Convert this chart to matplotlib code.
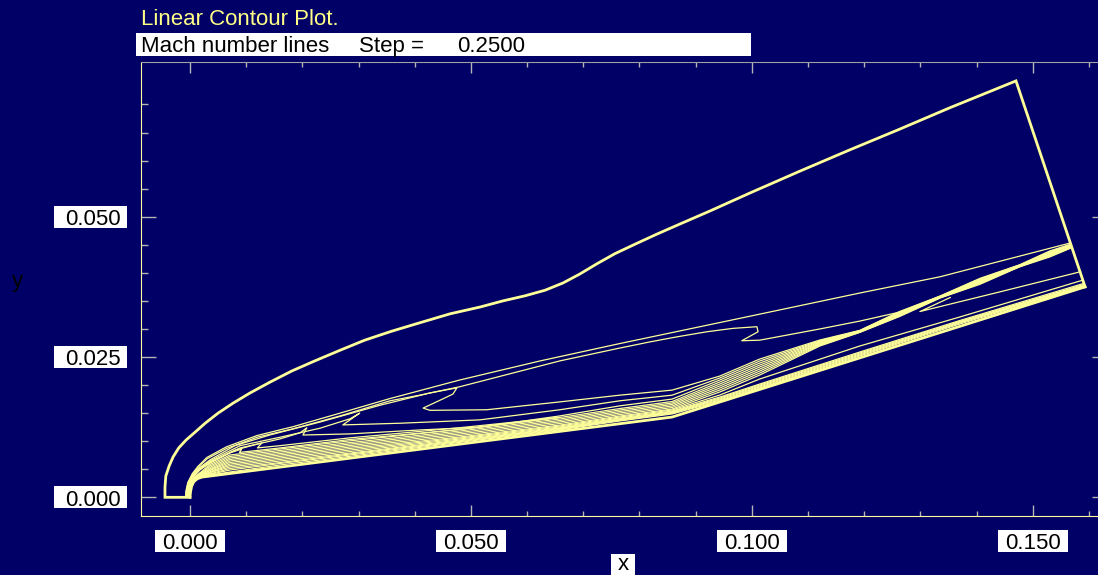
import matplotlib
matplotlib.use("Agg")
import matplotlib.pyplot as plt
import matplotlib.transforms as mtransforms
from matplotlib.patches import Rectangle

plt.rcParams['font.family'] = ['Liberation Sans', 'DejaVu Sans']

# -----------------
# Geometry of the computational domain
# -----------------

# Inflow boundary: symmetry line, bow curve, top corner, outflow edge
outer_x = [0.0, -0.00445, -0.00445, -0.0043, -0.0037, -0.0030, -0.0020, -0.0007, 0.0009, 0.0027,
           0.0050, 0.0077, 0.0107, 0.0142, 0.0181, 0.0222, 0.0267, 0.0311, 0.0359, 0.0409,
           0.0463, 0.0516, 0.0557, 0.0596, 0.0632, 0.0664, 0.0694, 0.0724, 0.0756, 0.0792,
           0.0831, 0.0872, 0.0925, 0.0996, 0.1085, 0.1174, 0.1263, 0.1352, 0.1470, 0.1593]
outer_y = [0.0, 0.0, 0.0018, 0.0038, 0.0056, 0.0072, 0.0088, 0.0102, 0.0116, 0.0132,
           0.0150, 0.0168, 0.0186, 0.0205, 0.0225, 0.0243, 0.0262, 0.0280, 0.0296, 0.0311,
           0.0327, 0.0339, 0.0350, 0.0359, 0.0369, 0.0382, 0.0398, 0.0416, 0.0434, 0.0451,
           0.0469, 0.0487, 0.0510, 0.0542, 0.0581, 0.0619, 0.0656, 0.0694, 0.0742, 0.0375]

# Blunted double-wedge wall
body_x = [0.0, 0.0001, 0.0003, 0.0007, 0.0013, 0.0021, 0.0858, 0.1593]
body_y = [0.0, 0.0010, 0.0020, 0.0028, 0.0033, 0.0036, 0.0143, 0.0375]

# -----------------
# Mach number contour lines
# -----------------

# outermost contour of the shock layer
line_a_x = [-0.0008, -0.0007, -0.0004, 0.0004, 0.0014, 0.0030, 0.0065, 0.0119, 0.0184, 0.0267,
            0.0356, 0.0480, 0.0623, 0.0765, 0.0979, 0.1192, 0.1335, 0.1566]
line_a_y = [0.0, 0.0012, 0.0026, 0.0042, 0.0055, 0.0071, 0.0090, 0.0110, 0.0126, 0.0150,
            0.0176, 0.0209, 0.0243, 0.0274, 0.0319, 0.0364, 0.0393, 0.0453]

# second contour, folds back near x = 0.1 and joins the ramp shock
line_a2_x = [-0.00075, -0.00065, -0.00035, 0.00045, 0.0015, 0.0031, 0.0065, 0.0119, 0.0183, 0.0267,
             0.0356, 0.0409, 0.0480, 0.0658, 0.0765, 0.0819, 0.0867, 0.0920, 0.0966, 0.1009,
             0.1011, 0.0982, 0.1014, 0.1121, 0.1192, 0.1263, 0.1335, 0.1406, 0.1477, 0.1569]
line_a2_y = [0.0, 0.0012, 0.0026, 0.0041, 0.0054, 0.0069, 0.0087, 0.0107, 0.0122, 0.0145,
             0.0172, 0.0182, 0.0197, 0.0243, 0.0266, 0.0277, 0.0286, 0.0295, 0.0301, 0.0304,
             0.0295, 0.0279, 0.0280, 0.0300, 0.0314, 0.0330, 0.0356, 0.0384, 0.0411, 0.0447]

# small closed tongue under the ramp shock
loop_x = [0.1353, 0.1299, 0.1441, 0.1585]
loop_y = [0.0356, 0.0331, 0.0366, 0.0402]

# contours that leave the outer layer with a step and run into the ramp shock
w3_x = [-0.0007, -0.0006, -0.0003, 0.0005, 0.0016, 0.0036, 0.0080, 0.0142, 0.0231, 0.0338, 0.0427,
        0.0475, 0.0468, 0.0445, 0.0415, 0.0427, 0.0528, 0.0658, 0.0765, 0.0858, 0.0943, 0.1014]
w3_y = [0.0, 0.0012, 0.0025, 0.0040, 0.0052, 0.0067, 0.0092, 0.0111, 0.0134, 0.0164, 0.0186,
        0.0195, 0.0184, 0.0173, 0.0159, 0.0155, 0.0156, 0.0170, 0.0182, 0.0191, 0.02161, 0.02464]
w2_x = [-0.00065, -0.00055, -0.00025, 0.00055, 0.0016, 0.0036, 0.0089, 0.0160, 0.0231, 0.0285,
        0.0302, 0.0272, 0.0374, 0.0516, 0.0658, 0.0765, 0.0858, 0.0943, 0.1014]
w2_y = [0.0, 0.0011, 0.0024, 0.0039, 0.0051, 0.0065, 0.0092, 0.0107, 0.0123, 0.0140,
        0.0150, 0.0129, 0.0132, 0.0138, 0.0156, 0.0172, 0.0182, 0.02126, 0.02429]
w1_x = [-0.0006, -0.0005, -0.0002, 0.0006, 0.0017, 0.0036, 0.0089, 0.0160, 0.0196, 0.0208,
        0.0201, 0.0285, 0.0409, 0.0516, 0.0658, 0.0765, 0.0858, 0.0943, 0.1014]
w1_y = [0.0, 0.0011, 0.0024, 0.0038, 0.0050, 0.0063, 0.0088, 0.0104, 0.0115, 0.0124,
        0.0111, 0.0113, 0.0120, 0.0125, 0.0145, 0.0163, 0.0175, 0.02091, 0.02393]

# short stepped contours close to the nose, merging with the boundary layer
z1_x = [-0.00058, -0.00048, -0.00018, 0.0006, 0.0017, 0.0036, 0.0080, 0.0128, 0.0120, 0.0160,
        0.0285, 0.0480, 0.0658]
z1_y = [0.0, 0.0011, 0.0024, 0.0037, 0.0049, 0.0062, 0.0084, 0.0097, 0.0088, 0.0092,
        0.0106, 0.0124, 0.01424]
z2_x = [-0.00056, -0.00046, -0.00016, 0.0007, 0.0018, 0.0036, 0.0071, 0.0092, 0.0088, 0.0160,
        0.0285, 0.0480, 0.0658]
z2_y = [0.0, 0.0011, 0.0024, 0.0037, 0.0049, 0.0061, 0.0079, 0.0086, 0.0080, 0.0088,
        0.0103, 0.0121, 0.01423]

# boundary-layer contours around the nose (outer ones first)
nose_x = [
    [-0.00055, -0.00045, -0.00025, 0.00030, 0.00110, 0.0035],
    [-0.00050, -0.00040, -0.00020, 0.00035, 0.00110, 0.0036],
    [-0.00045, -0.00035, -0.00015, 0.00039, 0.00112, 0.0037],
    [-0.00040, -0.00030, -0.00010, 0.00042, 0.00114, 0.0038],
    [-0.00035, -0.00025, -0.00005, 0.00046, 0.00116, 0.0038],
    [-0.00030, -0.00020, 0.00000, 0.00049, 0.00118, 0.0039],
    [-0.00025, -0.00015, 0.00005, 0.00053, 0.00120, 0.0039],
    [-0.00020, -0.00010, 0.00010, 0.00056, 0.00122, 0.0040],
    [-0.00016, -0.00006, 0.00014, 0.00059, 0.00124, 0.0040],
    [-0.00012, -0.00002, 0.00018, 0.00062, 0.00125, 0.0040],
    [-0.00008, 0.00002, 0.00022, 0.00064, 0.00127, 0.0041],
    [-0.00004, 0.00006, 0.00026, 0.00067, 0.00128, 0.0041],
]
nose_y = [
    [0.0, 0.0010, 0.0021, 0.00320, 0.00380, 0.0058],
    [0.0, 0.0010, 0.0021, 0.00315, 0.00375, 0.0056],
    [0.0, 0.0010, 0.0021, 0.00312, 0.00370, 0.0054],
    [0.0, 0.0010, 0.0021, 0.00308, 0.00366, 0.0052],
    [0.0, 0.0010, 0.0021, 0.00305, 0.00362, 0.0050],
    [0.0, 0.0010, 0.0021, 0.00301, 0.00357, 0.0049],
    [0.0, 0.0010, 0.0020, 0.00298, 0.00353, 0.0047],
    [0.0, 0.0010, 0.0020, 0.00294, 0.00348, 0.0046],
    [0.0, 0.0010, 0.0020, 0.00291, 0.00344, 0.0045],
    [0.0, 0.0010, 0.0020, 0.00288, 0.00341, 0.0043],
    [0.0, 0.0010, 0.0020, 0.00286, 0.00337, 0.0042],
    [0.0, 0.0010, 0.0020, 0.00283, 0.00334, 0.00405],
]

# boundary-layer contours along the first wedge, up to x = 0.1014
bl_x = [0.0071, 0.0160, 0.0285, 0.0480, 0.0658, 0.0765, 0.0858, 0.0943, 0.1014]
bl_levels = [
    [0.00754, 0.00861, 0.01006, 0.01208, 0.01422, 0.01582, 0.01707, 0.02055, 0.02357],
    [0.00727, 0.00834, 0.00976, 0.01181, 0.01395, 0.01556, 0.01680, 0.02019, 0.02322],
    [0.00700, 0.00807, 0.00950, 0.01155, 0.01368, 0.01529, 0.01654, 0.01984, 0.02286],
    [0.00674, 0.00780, 0.00923, 0.01128, 0.01342, 0.01502, 0.01627, 0.01948, 0.02251],
    [0.00647, 0.00754, 0.00896, 0.01101, 0.01315, 0.01475, 0.01600, 0.01913, 0.02215],
    [0.00620, 0.00727, 0.00870, 0.01075, 0.01288, 0.01449, 0.01573, 0.01877, 0.02179],
    [0.00593, 0.00700, 0.00843, 0.01057, 0.01270, 0.01431, 0.01556, 0.01823, 0.02108],
    [0.00567, 0.00674, 0.00816, 0.01039, 0.01253, 0.01413, 0.01538, 0.01787, 0.02019],
    [0.00540, 0.00647, 0.00789, 0.01021, 0.01238, 0.01399, 0.01524, 0.01769, 0.02001],
    [0.00513, 0.00620, 0.00772, 0.01007, 0.01226, 0.01386, 0.01511, 0.01752, 0.01984],
    [0.00486, 0.00602, 0.00754, 0.00993, 0.01214, 0.01374, 0.01499, 0.01734, 0.01966],
    [0.00451, 0.00576, 0.00731, 0.00979, 0.01201, 0.01360, 0.01485, 0.01716, 0.01948],
]

# ramp shock: nine contours bunched together (w3, w2, w1, then the six outer bl lines)
band_x = [0.1121, 0.1192, 0.1263, 0.1335, 0.1406, 0.1477, 0.1530, 0.1568]
band_levels = [
    [0.02803, 0.02974, 0.03311, 0.03587, 0.03902, 0.04145, 0.04389, 0.04514],
    [0.02790, 0.02970, 0.03300, 0.03583, 0.03889, 0.04140, 0.04375, 0.04505],
    [0.02776, 0.02965, 0.03289, 0.03578, 0.03876, 0.04136, 0.04362, 0.04496],
    [0.02763, 0.02961, 0.03277, 0.03574, 0.03862, 0.04131, 0.04349, 0.04487],
    [0.02749, 0.02956, 0.03266, 0.03569, 0.03849, 0.04127, 0.04335, 0.04478],
    [0.02736, 0.02952, 0.03255, 0.03565, 0.03836, 0.04122, 0.04322, 0.04469],
    [0.02723, 0.02947, 0.03244, 0.03560, 0.03822, 0.04118, 0.04309, 0.04460],
    [0.02709, 0.02943, 0.03233, 0.03556, 0.03809, 0.04114, 0.04295, 0.04451],
    [0.02696, 0.02938, 0.03222, 0.03551, 0.03796, 0.04109, 0.04282, 0.04442],
]

# inner six bl lines follow the second wedge to the outflow edge
ramp_x = [0.1192, 0.1370]
ramp_levels = [
    [0.02696, 0.03213],
    [0.02589, 0.03150],
    [0.02571, 0.03134],
    [0.02553, 0.03120],
    [0.02535, 0.03106],
    [0.02518, 0.03088],
]
ramp_end_x = [0.1589, 0.1590, 0.1590, 0.1591, 0.1591, 0.1592]
ramp_end_y = [0.0387, 0.0381, 0.0379, 0.0378, 0.0377, 0.0376]

# axis ticks
x_major = [0.0, 0.05, 0.10, 0.15]
x_minor = [0.01, 0.02, 0.03, 0.04, 0.06, 0.07, 0.08, 0.09, 0.11, 0.12, 0.13, 0.14, 0.16]
y_major = [0.0, 0.025, 0.050]
y_minor = [0.005, 0.010, 0.015, 0.020, 0.030, 0.035, 0.040, 0.045, 0.055, 0.060, 0.065, 0.070]
x_labels = ['0.000', '0.050', '0.100', '0.150']
y_labels = ['0.000', '0.025', '0.050']

# -----------------
# Plotting
# -----------------

W, H = 1098, 575
BG = '#000066'
LINE = '#ffff99'
THIN = 0.9
THICK = 2.0

fig = plt.figure(figsize=(W / 100, H / 100), dpi=100)
fig.patch.set_facecolor(BG)
ax = fig.add_axes([140.7 / W, 59 / H, (1107 - 140.7) / W, (516 - 61.7) / H])
ax.set_facecolor(BG)

# contour lines
ax.plot(line_a_x, line_a_y, color=LINE, lw=THIN)
ax.plot(line_a2_x, line_a2_y, color=LINE, lw=THIN)
ax.plot(loop_x, loop_y, color=LINE, lw=THIN)
ax.plot(z1_x, z1_y, color=LINE, lw=THIN)
ax.plot(z2_x, z2_y, color=LINE, lw=THIN)
for wx, wy, k in [(w3_x, w3_y, 0), (w2_x, w2_y, 1), (w1_x, w1_y, 2)]:
    ax.plot(wx + band_x, wy + band_levels[k], color=LINE, lw=THIN)

for i in range(len(bl_levels)):
    xs = nose_x[i] + bl_x
    ys = nose_y[i] + bl_levels[i]
    if i < 6:
        xs = xs + band_x
        ys = ys + band_levels[i + 3]
    else:
        j = i - 6
        xs = xs + ramp_x + [ramp_end_x[j]]
        ys = ys + ramp_levels[j] + [ramp_end_y[j]]
    ax.plot(xs, ys, color=LINE, lw=THIN)

# domain outline and wall
ax.plot(outer_x, outer_y, color=LINE, lw=THICK, solid_joinstyle='miter')
ax.plot(body_x, body_y, color=LINE, lw=THICK)

ax.set_xlim(-0.00877, 0.1632)
ax.set_ylim(-0.00333, 0.07762)

# ticks point inwards on all four sides, labels drawn separately in boxes
ax.set_xticks(x_major)
ax.set_xticks(x_minor, minor=True)
ax.set_yticks(y_major)
ax.set_yticks(y_minor, minor=True)
ax.tick_params(which='both', direction='in', top=True, right=True,
               labelbottom=False, labelleft=False, color='#b4b4b4', width=1)
ax.xaxis.set_tick_params(which='major', length=7.7)
ax.xaxis.set_tick_params(which='minor', length=3.4)
ax.yaxis.set_tick_params(which='major', length=10.6)
ax.yaxis.set_tick_params(which='minor', length=5)

for side in ['left', 'bottom']:
    ax.spines[side].set_color(LINE)
for side in ['top', 'right']:
    ax.spines[side].set_color('#a0a0a0')

# tick labels in white boxes
xt = mtransforms.blended_transform_factory(ax.transData, fig.transFigure)
for v, s in zip(x_major, x_labels):
    fig.add_artist(Rectangle((v - 0.00626, 23 / H), 0.01252, 22 / H, transform=xt,
                             facecolor='white', edgecolor='none'))
    fig.text(v, 26 / H, s, transform=xt, ha='center', va='baseline', fontsize=16, color='black')

yt = mtransforms.blended_transform_factory(fig.transFigure, ax.transData)
for v, s in zip(y_major, y_labels):
    fig.add_artist(Rectangle((54 / W, v - 0.00196), 73 / W, 0.00392, transform=yt,
                             facecolor='white', edgecolor='none'))
    fig.text(121 / W, v - 0.00148, s, transform=yt, ha='right', va='baseline', fontsize=16, color='black')

# axis titles
fig.add_artist(Rectangle((611 / W, 0), 24 / W, 21 / H, transform=fig.transFigure,
                         facecolor='white', edgecolor='none'))
fig.text(623 / W, 4.5 / H, 'x', ha='center', va='baseline', fontsize=16, color='black')
fig.text(12 / W, (H - 287) / H, 'y', ha='left', va='baseline', fontsize=16, color='black')

# header
fig.text(141 / W, (H - 25) / H, 'Linear Contour Plot.', fontsize=16, color='#ffff88', va='baseline')
fig.add_artist(Rectangle((136 / W, (H - 56) / H), 615 / W, 23 / H, transform=fig.transFigure,
                         facecolor='white', edgecolor='none'))
fig.text(141 / W, (H - 51.7) / H, 'Mach number lines', fontsize=16, color='black', va='baseline')
fig.text(359 / W, (H - 51.7) / H, 'Step =', fontsize=16, color='black', va='baseline')
fig.text(457 / W, (H - 51.7) / H, '0.2500', fontsize=16, color='black', va='baseline')

fig.savefig('out.png', dpi=100, facecolor=BG)
